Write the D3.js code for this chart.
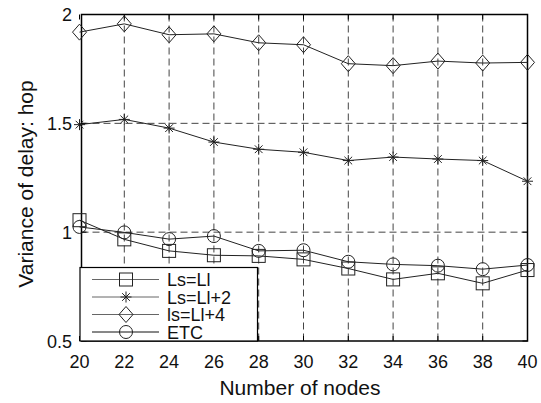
<!DOCTYPE html>
<html lang="en">
<head>
<meta charset="UTF-8">
<title>Variance of delay</title>
<style>
  body { margin:0; background:#fff; }
  svg { display:block; font-family: "Liberation Sans", Arial, sans-serif; }
</style>
</head>
<body>
<svg width="541" height="403"></svg>
<script src="https://cdnjs.cloudflare.com/ajax/libs/d3/7.8.5/d3.min.js"></script>
<script>
const nodes = [20, 22, 24, 26, 28, 30, 32, 34, 36, 38, 40]
const xTicks = [20, 22, 24, 26, 28, 30, 32, 34, 36, 38, 40]
const yTicks = [0.5, 1, 1.5, 2]
const lsEqLl   = [1.055, 0.967, 0.914, 0.894, 0.891, 0.875, 0.833, 0.783, 0.811, 0.765, 0.826]
const lsEqLl2  = [1.494, 1.518, 1.478, 1.414, 1.381, 1.367, 1.329, 1.345, 1.336, 1.329, 1.234]
const lsEqLl4  = [1.919, 1.957, 1.907, 1.911, 1.870, 1.861, 1.774, 1.765, 1.786, 1.777, 1.780]
const etc      = [1.024, 0.999, 0.968, 0.982, 0.914, 0.917, 0.864, 0.852, 0.846, 0.830, 0.849]
const labels = ["Ls=Ll", "Ls=Ll+2", "ls=Ll+4", "ETC"]

const series = [
  { name: labels[2], values: lsEqLl4, marker: "diamond" },
  { name: labels[1], values: lsEqLl2, marker: "star" },
  { name: labels[0], values: lsEqLl, marker: "square" },
  { name: labels[3], values: etc, marker: "circle" }
]

const svg = d3.select("svg")
const x = d3.scaleLinear().domain([20, 40]).range([79.5, 527.5])
const y = d3.scaleLinear().domain([0.5, 2]).range([341, 14.5])
const frameLeft = 81.5

// grid
const grid = svg.append("g").attr("stroke", "#444").attr("stroke-width", 1).attr("stroke-dasharray", "7,4")
grid.selectAll(".vg").data(xTicks.slice(1, -1)).join("line")
  .attr("x1", d => x(d)).attr("x2", d => x(d))
  .attr("y1", y(2)).attr("y2", y(0.5))
grid.selectAll(".hg").data(yTicks.slice(1, -1)).join("line")
  .attr("x1", frameLeft).attr("x2", x(40))
  .attr("y1", d => y(d)).attr("y2", d => y(d))

// ticks (inward, both sides)
const tk = svg.append("g").attr("stroke", "#000").attr("stroke-width", 1)
xTicks.forEach(t => {
  tk.append("line").attr("x1", x(t)).attr("x2", x(t)).attr("y1", y(0.5)).attr("y2", y(0.5) - 5)
  tk.append("line").attr("x1", x(t)).attr("x2", x(t)).attr("y1", y(2)).attr("y2", y(2) + 5)
})
yTicks.forEach(t => {
  tk.append("line").attr("x1", frameLeft).attr("x2", frameLeft + 5).attr("y1", y(t)).attr("y2", y(t))
  tk.append("line").attr("x1", x(40)).attr("x2", x(40) - 5).attr("y1", y(t)).attr("y2", y(t))
})

// frame
svg.append("rect")
  .attr("x", frameLeft).attr("y", y(2))
  .attr("width", x(40) - frameLeft).attr("height", y(0.5) - y(2))
  .attr("fill", "none").attr("stroke", "#000").attr("stroke-width", 1.5)

function drawMarker(g, type, cx, cy) {
  const m = g.append("g").attr("transform", `translate(${cx},${cy})`)
    .attr("fill", "none").attr("stroke", "#222").attr("stroke-width", 1)
  if (type === "square") {
    m.append("rect").attr("x", -6.5).attr("y", -6.5).attr("width", 13).attr("height", 13)
  } else if (type === "circle") {
    m.append("circle").attr("r", 6.5)
  } else if (type === "diamond") {
    m.append("path").attr("d", "M0,-8L7,0L0,8L-7,0Z")
  } else if (type === "star") {
    const r = 5.5
    m.append("path").attr("d",
      `M${-r},0L${r},0M0,${-r}L0,${r}M${-r * 0.7},${-r * 0.7}L${r * 0.7},${r * 0.7}M${-r * 0.7},${r * 0.7}L${r * 0.7},${-r * 0.7}`)
  }
}

// series
const line = d3.line().x((d, i) => x(nodes[i])).y(d => y(d))
series.forEach(s => {
  svg.append("path").attr("d", line(s.values))
    .attr("fill", "none").attr("stroke", "#222").attr("stroke-width", 1)
  const g = svg.append("g")
  s.values.forEach((v, i) => drawMarker(g, s.marker, x(nodes[i]), y(v)))
})

// tick labels
svg.append("g").selectAll("text").data(xTicks).join("text")
  .attr("x", d => x(d)).attr("y", 368)
  .attr("text-anchor", "middle").attr("font-size", 18).attr("fill", "#111")
  .text(d => d)
svg.append("g").selectAll("text").data(yTicks).join("text")
  .attr("x", 72).attr("y", d => y(d) + 6.5)
  .attr("text-anchor", "end").attr("font-size", 18).attr("fill", "#111")
  .text(d => d)

// axis titles
svg.append("text").attr("x", 300).attr("y", 395)
  .attr("text-anchor", "middle").attr("font-size", 21).attr("fill", "#111")
  .text("Number of nodes")
svg.append("text").attr("transform", "translate(33,184) rotate(-90)")
  .attr("text-anchor", "middle").attr("font-size", 21).attr("fill", "#111")
  .text("Variance of delay: hop")

// legend
const legend = svg.append("g")
legend.append("rect").attr("x", 80).attr("y", 267.5).attr("width", 177.5).attr("height", 73.5)
  .attr("fill", "#fff").attr("stroke", "#000").attr("stroke-width", 1.2)
const legendOrder = [
  { name: labels[0], marker: "square", color: "#666" },
  { name: labels[1], marker: "star", color: "#666" },
  { name: labels[2], marker: "diamond", color: "#666" },
  { name: labels[3], marker: "circle", color: "#111" }
]
legendOrder.forEach((e, i) => {
  const cy = 279.5 + i * 17.5
  legend.append("line").attr("x1", 92).attr("x2", 159).attr("y1", cy).attr("y2", cy)
    .attr("stroke", e.color).attr("stroke-width", 1)
  drawMarker(legend, e.marker, 126, cy)
  legend.append("text").attr("x", 167).attr("y", cy + 6.5)
    .attr("font-size", 18).attr("fill", "#111").text(e.name)
})
</script>
</body>
</html>
